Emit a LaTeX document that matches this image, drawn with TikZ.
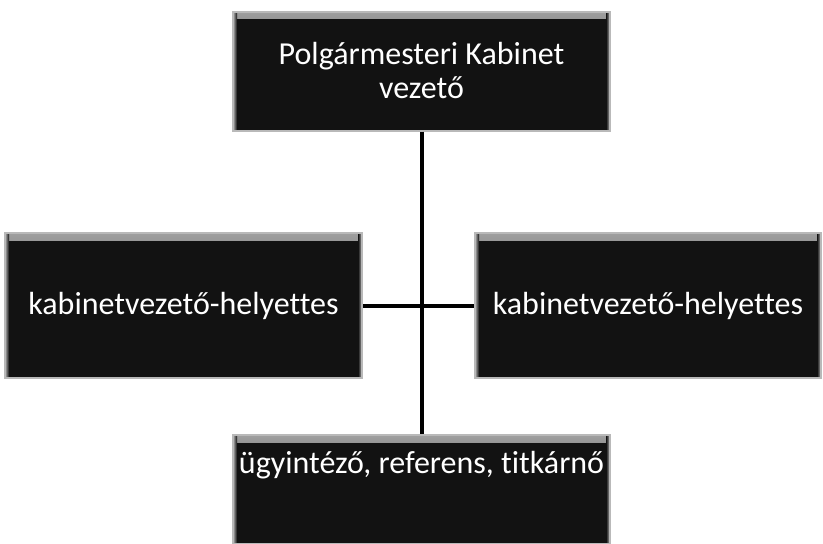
\documentclass[tikz,border=0pt]{standalone}
\usepackage{fontspec}
\setmainfont{Carlito}[Ligatures=NoCommon]
\begin{document}
\begin{tikzpicture}[x=1pt,y=-1pt,
  box/.style={draw=gray!55, line width=2pt, fill=black!93, text=white,
    font=\fontsize{32}{34}\selectfont, inner sep=0pt, align=center,
    path picture={
      \shade[top color=gray!75, bottom color=black!93]
        (path picture bounding box.north west) rectangle
        ([yshift=-7pt]path picture bounding box.north east);
      \shade[left color=gray!60, right color=black!93]
        (path picture bounding box.north west) rectangle
        ([xshift=4pt]path picture bounding box.south west);
      \shade[right color=gray!60, left color=black!93]
        (path picture bounding box.north east) rectangle
        ([xshift=-4pt]path picture bounding box.south east);
    }},
  link/.style={line width=4pt, draw=black}]
\useasboundingbox (0,0) rectangle (823,544);
\clip (0,0) rectangle (823,544);
\node[box, minimum width=377pt, minimum height=119pt] (top) at (421.5,71)
  {Polgármesteri Kabinet\\vezető};
\node[box, minimum width=357pt, minimum height=145pt] (left) at (183.5,305.5)
  {kabinetvezető-helyettes};
\node[box, minimum width=346pt, minimum height=145pt] (right) at (648,305.5)
  {kabinetvezető-helyettes};
\node[box, minimum width=377pt, minimum height=109pt, text height=22pt, text depth=55pt] (bot) at (421.5,489.5)
  {ügyintéző, referens, titkárnő};
\draw[link] (top.south) -- (bot.north);
\draw[link] (left.east) -- (right.west);
\end{tikzpicture}
\end{document}
